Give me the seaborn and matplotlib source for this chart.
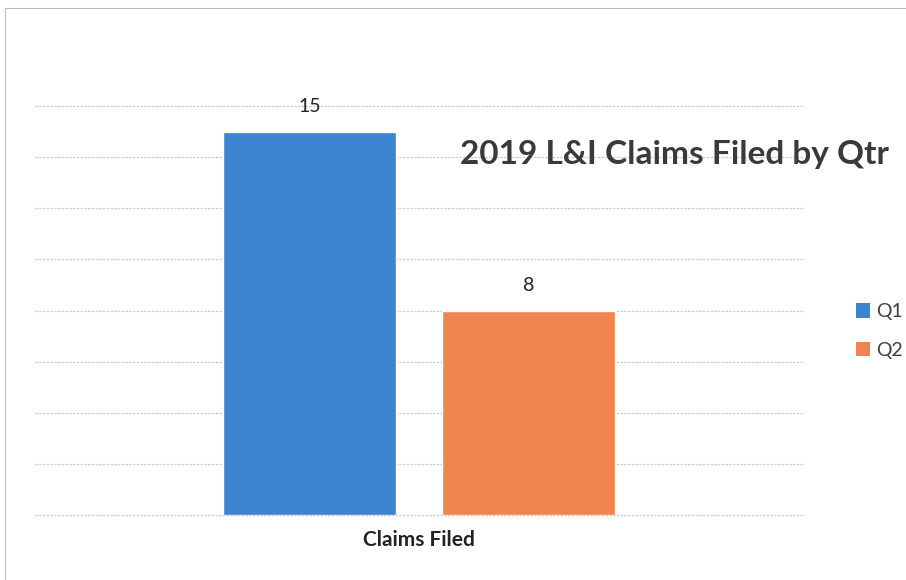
import matplotlib
matplotlib.use("Agg")
import matplotlib.pyplot as plt
import seaborn as sns
import pandas as pd
from matplotlib.patches import Patch
from matplotlib.lines import Line2D

categories = ["Claims Filed"]
quarters = ["Q1", "Q2"]
values = [15, 8]
title = "2019 L&I Claims Filed by Qtr"
colors = ["#3C84CF", "#F0844F"]

df = pd.DataFrame({"cat": categories * len(quarters), "qtr": quarters, "val": values})

sns.set_theme(style="white")
plt.rcParams["font.family"] = ["Lato", "DejaVu Sans"]

fig = plt.figure(figsize=(9.06, 5.8), dpi=100)
ax = fig.add_axes([35/906, 1-515/580, (803-35)/906, (515-106)/580])

sns.barplot(data=df, x="cat", y="val", hue="qtr", palette=colors, width=0.57, gap=0.21,
            ax=ax, legend=False, saturation=1)

ax.set_ylim(0, 16)
ax.set_xlim(-0.5, 0.5)
ax.set_yticks(range(0, 17, 2))
ax.yaxis.grid(True, color="#cccccc", linewidth=0.9, linestyle=(0, (2, 1)))
for gl in ax.yaxis.get_gridlines():
    gl.set_clip_on(False)
ax.set_axisbelow(True)
ax.tick_params(axis="y", left=False, labelleft=False)
ax.tick_params(axis="x", bottom=False, pad=5)
for lbl in ax.get_xticklabels():
    lbl.set_fontsize(15)
    lbl.set_fontweight("bold")
    lbl.set_color("#222222")
for s in ax.spines.values():
    s.set_visible(False)
ax.set_xlabel("")
ax.set_ylabel("")

for cont in ax.containers:
    ax.bar_label(cont, padding=12, fontsize=14, color="#222222")

fig.text(460/906, 1-155/580, title, fontsize=24, fontweight="bold", color="#3a3a3a",
         ha="left", va="center")

handles = [Patch(facecolor=c, edgecolor="none") for c in colors]
fig.legend(handles, quarters, loc="center left", bbox_to_anchor=(838/906, 1-331/580),
           frameon=False, fontsize=14, handlelength=0.75, handleheight=0.75,
           handletextpad=0.3, labelspacing=1.1, labelcolor="#404040")

# page border (scan)
fig.add_artist(Line2D([5/906, 1], [1-8/580, 1-8/580], transform=fig.transFigure,
                      color="#bbbbbb", linewidth=0.8))
fig.add_artist(Line2D([5/906, 5/906], [0, 1-8/580], transform=fig.transFigure,
                      color="#bbbbbb", linewidth=0.8))

fig.savefig("out.png", dpi=100)
